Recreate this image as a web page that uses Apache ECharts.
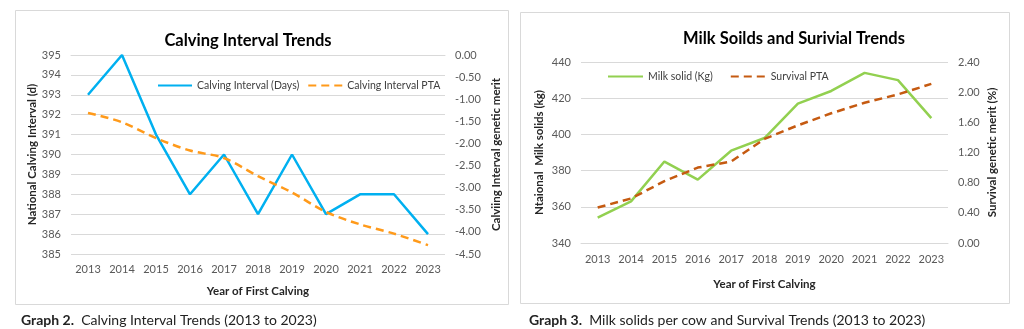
<!DOCTYPE html>
<html>
<head>
<meta charset="utf-8">
<script src="https://cdn.jsdelivr.net/npm/echarts@6/dist/echarts.min.js"></script>
<style>
  html, body { margin: 0; padding: 0; background: #fff; }
  #chart { width: 1024px; height: 329px; }
</style>
</head>
<body>
<div id="chart"></div>
<script>
// Year of first calving (shared by both panels)
const years = ['2013', '2014', '2015', '2016', '2017', '2018', '2019', '2020', '2021', '2022', '2023'];

// Graph 2: calving interval
const calvingIntervalDays = [393, 395, 391, 388, 390, 387, 390, 387, 388, 388, 386];
const calvingIntervalPTA = [-1.31, -1.52, -1.88, -2.16, -2.33, -2.74, -3.11, -3.55, -3.83, -4.04, -4.30];

// Graph 3: milk solids and survival
const milkSolidKg = [354, 363, 385, 375, 391, 398, 417, 424, 434, 430, 409];
const survivalPTA = [0.47, 0.59, 0.82, 1.00, 1.08, 1.38, 1.56, 1.72, 1.86, 1.97, 2.11];

const FONT = 'Lato, "Open Sans", sans-serif';
const tickColor = '#595959';
const gridColor = '#d9d9d9';
const nameStyle = { fontWeight: 'bold', fontSize: 11.5, color: '#262626', fontFamily: FONT };

function catAxis(gridIndex, margin, nameGap) {
  return {
    type: 'category', gridIndex, data: years, boundaryGap: true,
    axisTick: { show: false },
    axisLine: { lineStyle: { color: gridColor } },
    axisLabel: { interval: 0, color: tickColor, fontSize: 11, fontFamily: FONT, margin },
    name: 'Year of First Calving', nameLocation: 'middle', nameGap,
    nameTextStyle: nameStyle
  };
}

function valAxis(gridIndex, position, min, max, interval, name, nameGap, decimals, grid) {
  return {
    type: 'value', gridIndex, position, min, max, interval,
    axisLine: { show: false }, axisTick: { show: false },
    splitLine: { show: grid, lineStyle: { color: gridColor, width: 1 } },
    axisLabel: {
      color: tickColor, fontSize: 11, fontFamily: FONT, margin: 10,
      formatter: v => v.toFixed(decimals)
    },
    name, nameLocation: 'middle', nameGap, nameRotate: 90,
    nameTextStyle: nameStyle
  };
}

const captionStyle = {
  fontSize: 14, color: '#222', fontFamily: FONT, fontWeight: 'normal',
  rich: { b: { fontSize: 14, fontWeight: 'bold', color: '#222', fontFamily: FONT } }
};

const chart = echarts.init(document.getElementById('chart'));
chart.setOption({
  backgroundColor: '#fff',
  animation: false,
  graphic: [
    { type: 'rect', shape: { x: 15.5, y: 10.5, width: 493, height: 294 }, style: { fill: 'none', stroke: '#d9d9d9', lineWidth: 1 } },
    { type: 'rect', shape: { x: 520.5, y: 12.5, width: 489, height: 291 }, style: { fill: 'none', stroke: '#d9d9d9', lineWidth: 1 } }
  ],
  title: [
    { text: 'Calving Interval Trends', left: 243, top: 27, textAlign: 'center',
      textStyle: { fontSize: 16.5, fontWeight: 'bold', color: '#000', fontFamily: FONT } },
    { text: 'Milk Soilds and Surivial Trends', left: 789, top: 25, textAlign: 'center',
      textStyle: { fontSize: 16.5, fontWeight: 'bold', color: '#000', fontFamily: FONT } },
    { text: '{b|Graph 2.}  Calving Interval Trends (2013 to 2023)', left: 16, top: 308, textStyle: captionStyle },
    { text: '{b|Graph 3.}  Milk solids per cow and Survival Trends (2013 to 2023)', left: 524, top: 308, textStyle: captionStyle }
  ],
  legend: [
    { data: ['Calving Interval (Days)', 'Calving Interval PTA'], left: 157, top: 80,
      itemWidth: 34, itemHeight: 12, itemGap: 8, padding: 0,
      itemStyle: { opacity: 0 },
      textStyle: { fontSize: 10.5, color: '#404040', fontFamily: FONT } },
    { data: ['Milk solid (Kg)', 'Survival PTA'], left: 607, top: 71,
      itemWidth: 35, itemHeight: 12, itemGap: 17, padding: 0,
      itemStyle: { opacity: 0 },
      textStyle: { fontSize: 10.5, color: '#404040', fontFamily: FONT } }
  ],
  grid: [
    { left: 71, right: 579, top: 55, bottom: 75 },
    { left: 581, right: 76, top: 62, bottom: 86 }
  ],
  xAxis: [catAxis(0, 10, 31), catAxis(1, 11, 35)],
  yAxis: [
    valAxis(0, 'left', 385, 395, 1, 'National Calving Interval (d)', 32, 0, true),
    valAxis(0, 'right', -4.5, 0, 0.5, 'Calviing Interval genetic merit', 45, 2, false),
    valAxis(1, 'left', 340, 440, 20, 'Ntaional  Milk solids (kg)', 36, 0, true),
    valAxis(1, 'right', 0, 2.4, 0.4, 'Survival genetic merit (%)', 38, 2, false)
  ],
  series: [
    { name: 'Calving Interval (Days)', type: 'line', xAxisIndex: 0, yAxisIndex: 0,
      data: calvingIntervalDays, symbol: 'none', color: '#00B0F0',
      lineStyle: { width: 2.5, color: '#00B0F0' } },
    { name: 'Calving Interval PTA', type: 'line', xAxisIndex: 0, yAxisIndex: 1,
      data: calvingIntervalPTA, symbol: 'none', smooth: 0.3, color: '#FF9A1A',
      lineStyle: { width: 2.5, color: '#FF9A1A', type: [8, 5] } },
    { name: 'Milk solid (Kg)', type: 'line', xAxisIndex: 1, yAxisIndex: 2,
      data: milkSolidKg, symbol: 'none', color: '#92D050',
      lineStyle: { width: 2.5, color: '#92D050' } },
    { name: 'Survival PTA', type: 'line', xAxisIndex: 1, yAxisIndex: 3,
      data: survivalPTA, symbol: 'none', color: '#C55A11',
      lineStyle: { width: 2.5, color: '#C55A11', type: [8, 5] } }
  ]
});
</script>
</body>
</html>
